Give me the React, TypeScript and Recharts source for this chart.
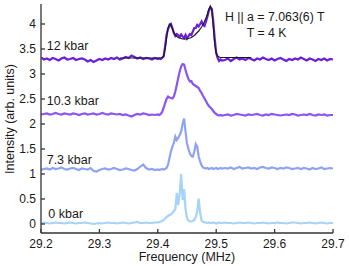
import { Line, LineChart, XAxis, YAxis } from "recharts"

// frequency grid (MHz): coarse on the baselines, finer across the lines
const freqs = [
    29.2, 29.205, 29.21, 29.215, 29.22, 29.225, 29.23, 29.235, 29.24, 29.245,
    29.25, 29.255, 29.26, 29.265, 29.27, 29.275, 29.28, 29.285, 29.29, 29.295,
    29.3, 29.305, 29.31, 29.315, 29.32, 29.325, 29.33, 29.335, 29.34, 29.345,
    29.35, 29.355, 29.36, 29.365, 29.37, 29.375, 29.38, 29.385, 29.39, 29.395,
    29.4,
    29.4025, 29.405, 29.4075, 29.41, 29.4125, 29.415, 29.4175, 29.42, 29.4225, 29.425,
    29.4275, 29.43, 29.4325, 29.435, 29.4375, 29.44, 29.4425, 29.445, 29.4475, 29.45,
    29.4525, 29.455, 29.4575, 29.46, 29.4625, 29.465, 29.4675, 29.47, 29.4725, 29.475,
    29.4775, 29.48, 29.4825, 29.485, 29.4875, 29.49, 29.4925, 29.495, 29.4975, 29.5,
    29.5025, 29.505, 29.5075, 29.51,
    29.515, 29.52, 29.525, 29.53, 29.535, 29.54, 29.545, 29.55, 29.555, 29.56,
    29.565, 29.57, 29.575, 29.58, 29.585, 29.59, 29.595, 29.6, 29.605, 29.61,
    29.615, 29.62, 29.625, 29.63, 29.635, 29.64, 29.645, 29.65, 29.655, 29.66,
    29.665, 29.67, 29.675, 29.68, 29.685, 29.69, 29.695, 29.7,
]

const kbar0 = [
    0.02, 0.03, 0.02, 0.01, 0.02, 0.03, 0.02, 0.02, 0.01, 0.02,
    0.03, 0.02, 0.01, 0.02, 0.02, 0.03, 0.02, 0.01, 0.0, 0.01,
    0.02, 0.01, 0.02, 0.03, 0.02, 0.02, 0.01, 0.02, 0.03, 0.02,
    0.01, 0.02, 0.03, 0.04, 0.02, 0.02, 0.03, 0.02, 0.02, 0.03,
    0.03,
    0.04, 0.05, 0.06, 0.08, 0.11, 0.14, 0.16, 0.18, 0.19, 0.22,
    0.26, 0.3, 0.62, 0.38, 0.6, 1.0, 0.48, 0.7, 0.3, 0.12,
    0.07, 0.05, 0.05, 0.06, 0.08, 0.14, 0.25, 0.51, 0.22, 0.07,
    0.04, 0.03, 0.03, 0.02, 0.03, 0.02, 0.02, 0.03, 0.02, 0.01,
    0.02, 0.03, 0.02, 0.02,
    0.03, 0.02, 0.02, 0.01, 0.02, 0.03, 0.02, 0.02, 0.03, 0.02,
    0.01, 0.02, 0.02, 0.03, 0.02, 0.01, 0.02, 0.02, 0.03, 0.02,
    0.02, 0.01, 0.02, 0.03, 0.03, 0.02, 0.01, 0.02, 0.02, 0.03,
    0.02, 0.01, 0.02, 0.03, 0.02, 0.01, 0.02, 0.02,
]

const kbar73 = [
    1.08, 1.1, 1.11, 1.09, 1.12, 1.1, 1.11, 1.13, 1.1, 1.09,
    1.11, 1.12, 1.1, 1.08, 1.11, 1.1, 1.09, 1.12, 1.06, 1.05,
    1.08, 1.1, 1.11, 1.09, 1.1, 1.12, 1.1, 1.08, 1.09, 1.11,
    1.1, 1.08, 1.07, 1.1, 1.15, 1.19, 1.12, 1.09, 1.1, 1.08,
    1.09,
    1.08, 1.09, 1.1, 1.09, 1.1, 1.12, 1.18, 1.32, 1.45, 1.55,
    1.62, 1.75, 1.68, 1.72, 1.78, 1.85, 2.0, 2.11, 1.85, 1.61,
    1.5, 1.41, 1.36, 1.35, 1.45, 1.6, 1.55, 1.35, 1.25, 1.17,
    1.13, 1.12, 1.11, 1.12, 1.1, 1.11, 1.12, 1.1, 1.11, 1.12,
    1.1, 1.11, 1.12, 1.11,
    1.12, 1.11, 1.13, 1.1, 1.12, 1.14, 1.11, 1.12, 1.13, 1.11,
    1.12, 1.1, 1.13, 1.14, 1.12, 1.11, 1.13, 1.12, 1.1, 1.12,
    1.11, 1.13, 1.12, 1.1, 1.11, 1.12, 1.1, 1.12, 1.11, 1.09,
    1.12, 1.1, 1.11, 1.13, 1.1, 1.11, 1.12, 1.11,
]

const kbar103 = [
    2.19, 2.2, 2.21, 2.19, 2.2, 2.22, 2.2, 2.19, 2.21, 2.2,
    2.19, 2.21, 2.2, 2.18, 2.2, 2.21, 2.19, 2.2, 2.21, 2.19,
    2.2, 2.22, 2.2, 2.19, 2.21, 2.2, 2.19, 2.2, 2.18, 2.19,
    2.17, 2.15, 2.18, 2.2, 2.19, 2.21, 2.2, 2.18, 2.19, 2.18,
    2.19,
    2.18, 2.2, 2.24, 2.32, 2.42, 2.5, 2.55, 2.53, 2.52, 2.51,
    2.55, 2.65, 2.78, 2.92, 3.05, 3.15, 3.2, 3.19, 3.08, 2.98,
    2.9, 2.85, 2.86, 2.8, 2.78, 2.76, 2.74, 2.72, 2.66, 2.62,
    2.56, 2.51, 2.46, 2.4, 2.36, 2.33, 2.3, 2.26, 2.22, 2.2,
    2.18, 2.17, 2.18, 2.17,
    2.18, 2.19, 2.17, 2.18, 2.2, 2.19, 2.18, 2.17, 2.19, 2.18,
    2.19, 2.2, 2.18, 2.17, 2.19, 2.18, 2.2, 2.19, 2.18, 2.17,
    2.18, 2.19, 2.18, 2.2, 2.19, 2.17, 2.18, 2.19, 2.18, 2.2,
    2.18, 2.17, 2.19, 2.18, 2.19, 2.17, 2.18, 2.18,
]

const kbar12 = [
    3.33, 3.29, 3.31, 3.28, 3.32, 3.3, 3.27, 3.31, 3.33, 3.29,
    3.3, 3.32, 3.28, 3.3, 3.31, 3.29, 3.25, 3.28, 3.24, 3.27,
    3.3, 3.28, 3.31, 3.29, 3.32, 3.3, 3.33, 3.29, 3.31, 3.34,
    3.32, 3.37, 3.34, 3.31, 3.33, 3.3, 3.32, 3.31, 3.29, 3.32,
    3.3,
    3.31, 3.3, 3.32, 3.35, 3.55, 3.78, 3.9, 3.96, 4.0, 3.92,
    3.82, 3.76, 3.8, 3.78, 3.74, 3.79, 3.75, 3.72, 3.78, 3.71,
    3.76, 3.8, 3.78, 3.85, 3.92, 3.92, 3.98, 3.95, 4.0, 4.05,
    3.98, 3.96, 4.05, 4.15, 4.27, 4.33, 4.3, 4.05, 3.7, 3.42,
    3.32, 3.26, 3.29, 3.27,
    3.28, 3.31, 3.26, 3.3, 3.33, 3.29, 3.31, 3.28, 3.32, 3.3,
    3.27, 3.31, 3.29, 3.33, 3.3, 3.28, 3.31, 3.27, 3.3, 3.32,
    3.29, 3.26, 3.3, 3.28, 3.31, 3.29, 3.33, 3.3, 3.27, 3.31,
    3.29, 3.26, 3.3, 3.28, 3.31, 3.27, 3.3, 3.29,
]

// simulated lineshape for 12 kbar (only drawn around the line)
const fit12 = [
    null, null, null, null, null, null, null, null, null, null,
    null, null, null, null, null, null, null, null, null, null,
    null, null, null, null, null, null, null, 3.32, 3.32, 3.32,
    3.32, 3.32, 3.32, 3.32, 3.32, 3.32, 3.32, 3.32, 3.32, 3.32,
    3.32,
    3.32, 3.32, 3.33, 3.36, 3.5, 3.72, 3.92, 4.0, 3.98, 3.9,
    3.83, 3.78, 3.75, 3.73, 3.72, 3.71, 3.7, 3.7, 3.7, 3.7,
    3.71, 3.72, 3.73, 3.75, 3.77, 3.8, 3.83, 3.86, 3.9, 3.94,
    3.99, 4.05, 4.12, 4.2, 4.3, 4.36, 4.28, 3.95, 3.6, 3.42,
    3.36, 3.34, 3.33, 3.33,
    3.33, 3.33, 3.33, 3.33, 3.33, 3.33, 3.33, 3.33, 3.33, 3.33,
    null, null, null, null, null, null, null, null, null, null,
    null, null, null, null, null, null, null, null, null, null,
    null, null, null, null, null, null, null, null,
]

const xTicks = [29.2, 29.3, 29.4, 29.5, 29.6, 29.7]
const yTicks = [0, 0.5, 1, 1.5, 2, 2.5, 3, 3.5, 4]

const rows = freqs.map((f, i) => ({
    f,
    k0: kbar0[i],
    k73: kbar73[i],
    k103: kbar103[i],
    k12: kbar12[i],
    fit: fit12[i],
}))

const font = "'Liberation Sans', Arial, Helvetica, sans-serif"
const axisColor = "#333"
const textColor = "#1a1a1a"

export default function App() {
    return (
        <div style={{ position: "absolute", left: 0, top: 0, background: "#fff" }}>
            <LineChart
                width={349}
                height={266}
                data={rows}
                margin={{ top: 4, right: 16, left: 0, bottom: 0 }}
                style={{ fontFamily: font }}
            >
                <XAxis
                    dataKey="f"
                    type="number"
                    domain={[29.2, 29.7]}
                    ticks={xTicks}
                    allowDataOverflow
                    height={33}
                    tickFormatter={(v: number) => v.toFixed(1)}
                    stroke={axisColor}
                    strokeWidth={1.3}
                    tickSize={-4}
                    tickMargin={10}
                    tick={{ fill: textColor, fontSize: 12 }}
                />
                <XAxis
                    xAxisId="top"
                    orientation="top"
                    type="number"
                    domain={[29.2, 29.7]}
                    ticks={xTicks}
                    allowDataOverflow
                    height={0}
                    stroke={axisColor}
                    strokeWidth={1.3}
                    tickSize={-4}
                    tick={false}
                />
                <YAxis
                    type="number"
                    domain={[-0.18, 4.4]}
                    ticks={yTicks}
                    allowDataOverflow
                    width={41}
                    stroke={axisColor}
                    strokeWidth={1.3}
                    tickSize={-4}
                    tickMargin={9}
                    tick={{ fill: textColor, fontSize: 12 }}
                />
                <YAxis
                    yAxisId="right"
                    orientation="right"
                    type="number"
                    domain={[-0.18, 4.4]}
                    ticks={yTicks}
                    allowDataOverflow
                    width={0}
                    stroke={axisColor}
                    strokeWidth={1.3}
                    tickSize={-4}
                    tick={false}
                />
                <Line dataKey="k0" stroke="#a6d3f7" strokeWidth={2.2} dot={false} isAnimationActive={false} />
                <Line dataKey="k73" stroke="#8ea3f3" strokeWidth={2.2} dot={false} isAnimationActive={false} />
                <Line dataKey="k103" stroke="#8a55f2" strokeWidth={2.2} dot={false} isAnimationActive={false} />
                <Line dataKey="k12" stroke="#6a1fdc" strokeWidth={2.2} dot={false} isAnimationActive={false} />
                <Line dataKey="fit" stroke="#1a1a1a" strokeWidth={1.2} dot={false} connectNulls={false} isAnimationActive={false} />

                <text x={46.7} y={50} fontSize={12.5} fill={textColor} fontFamily={font}>12 kbar</text>
                <text x={46.7} y={104.5} fontSize={12.5} fill={textColor} fontFamily={font}>10.3 kbar</text>
                <text x={46.7} y={163.5} fontSize={12.5} fill={textColor} fontFamily={font}>7.3 kbar</text>
                <text x={48.3} y={217.5} fontSize={12.5} fill={textColor} fontFamily={font}>0 kbar</text>
                <text x={225} y={21} fontSize={12.3} fill={textColor} fontFamily={font}>H || a = 7.063(6) T</text>
                <text x={246.7} y={36.5} fontSize={12.3} fill={textColor} fontFamily={font}>T = 4 K</text>
                <text x={187} y={261} fontSize={12.5} fill={textColor} fontFamily={font} textAnchor="middle">
                    Frequency (MHz)
                </text>
                <text
                    x={14}
                    y={119}
                    fontSize={12.5}
                    fill={textColor}
                    fontFamily={font}
                    textAnchor="middle"
                    transform="rotate(-90 14 119)"
                >
                    Intensity (arb. units)
                </text>
            </LineChart>
        </div>
    )
}
